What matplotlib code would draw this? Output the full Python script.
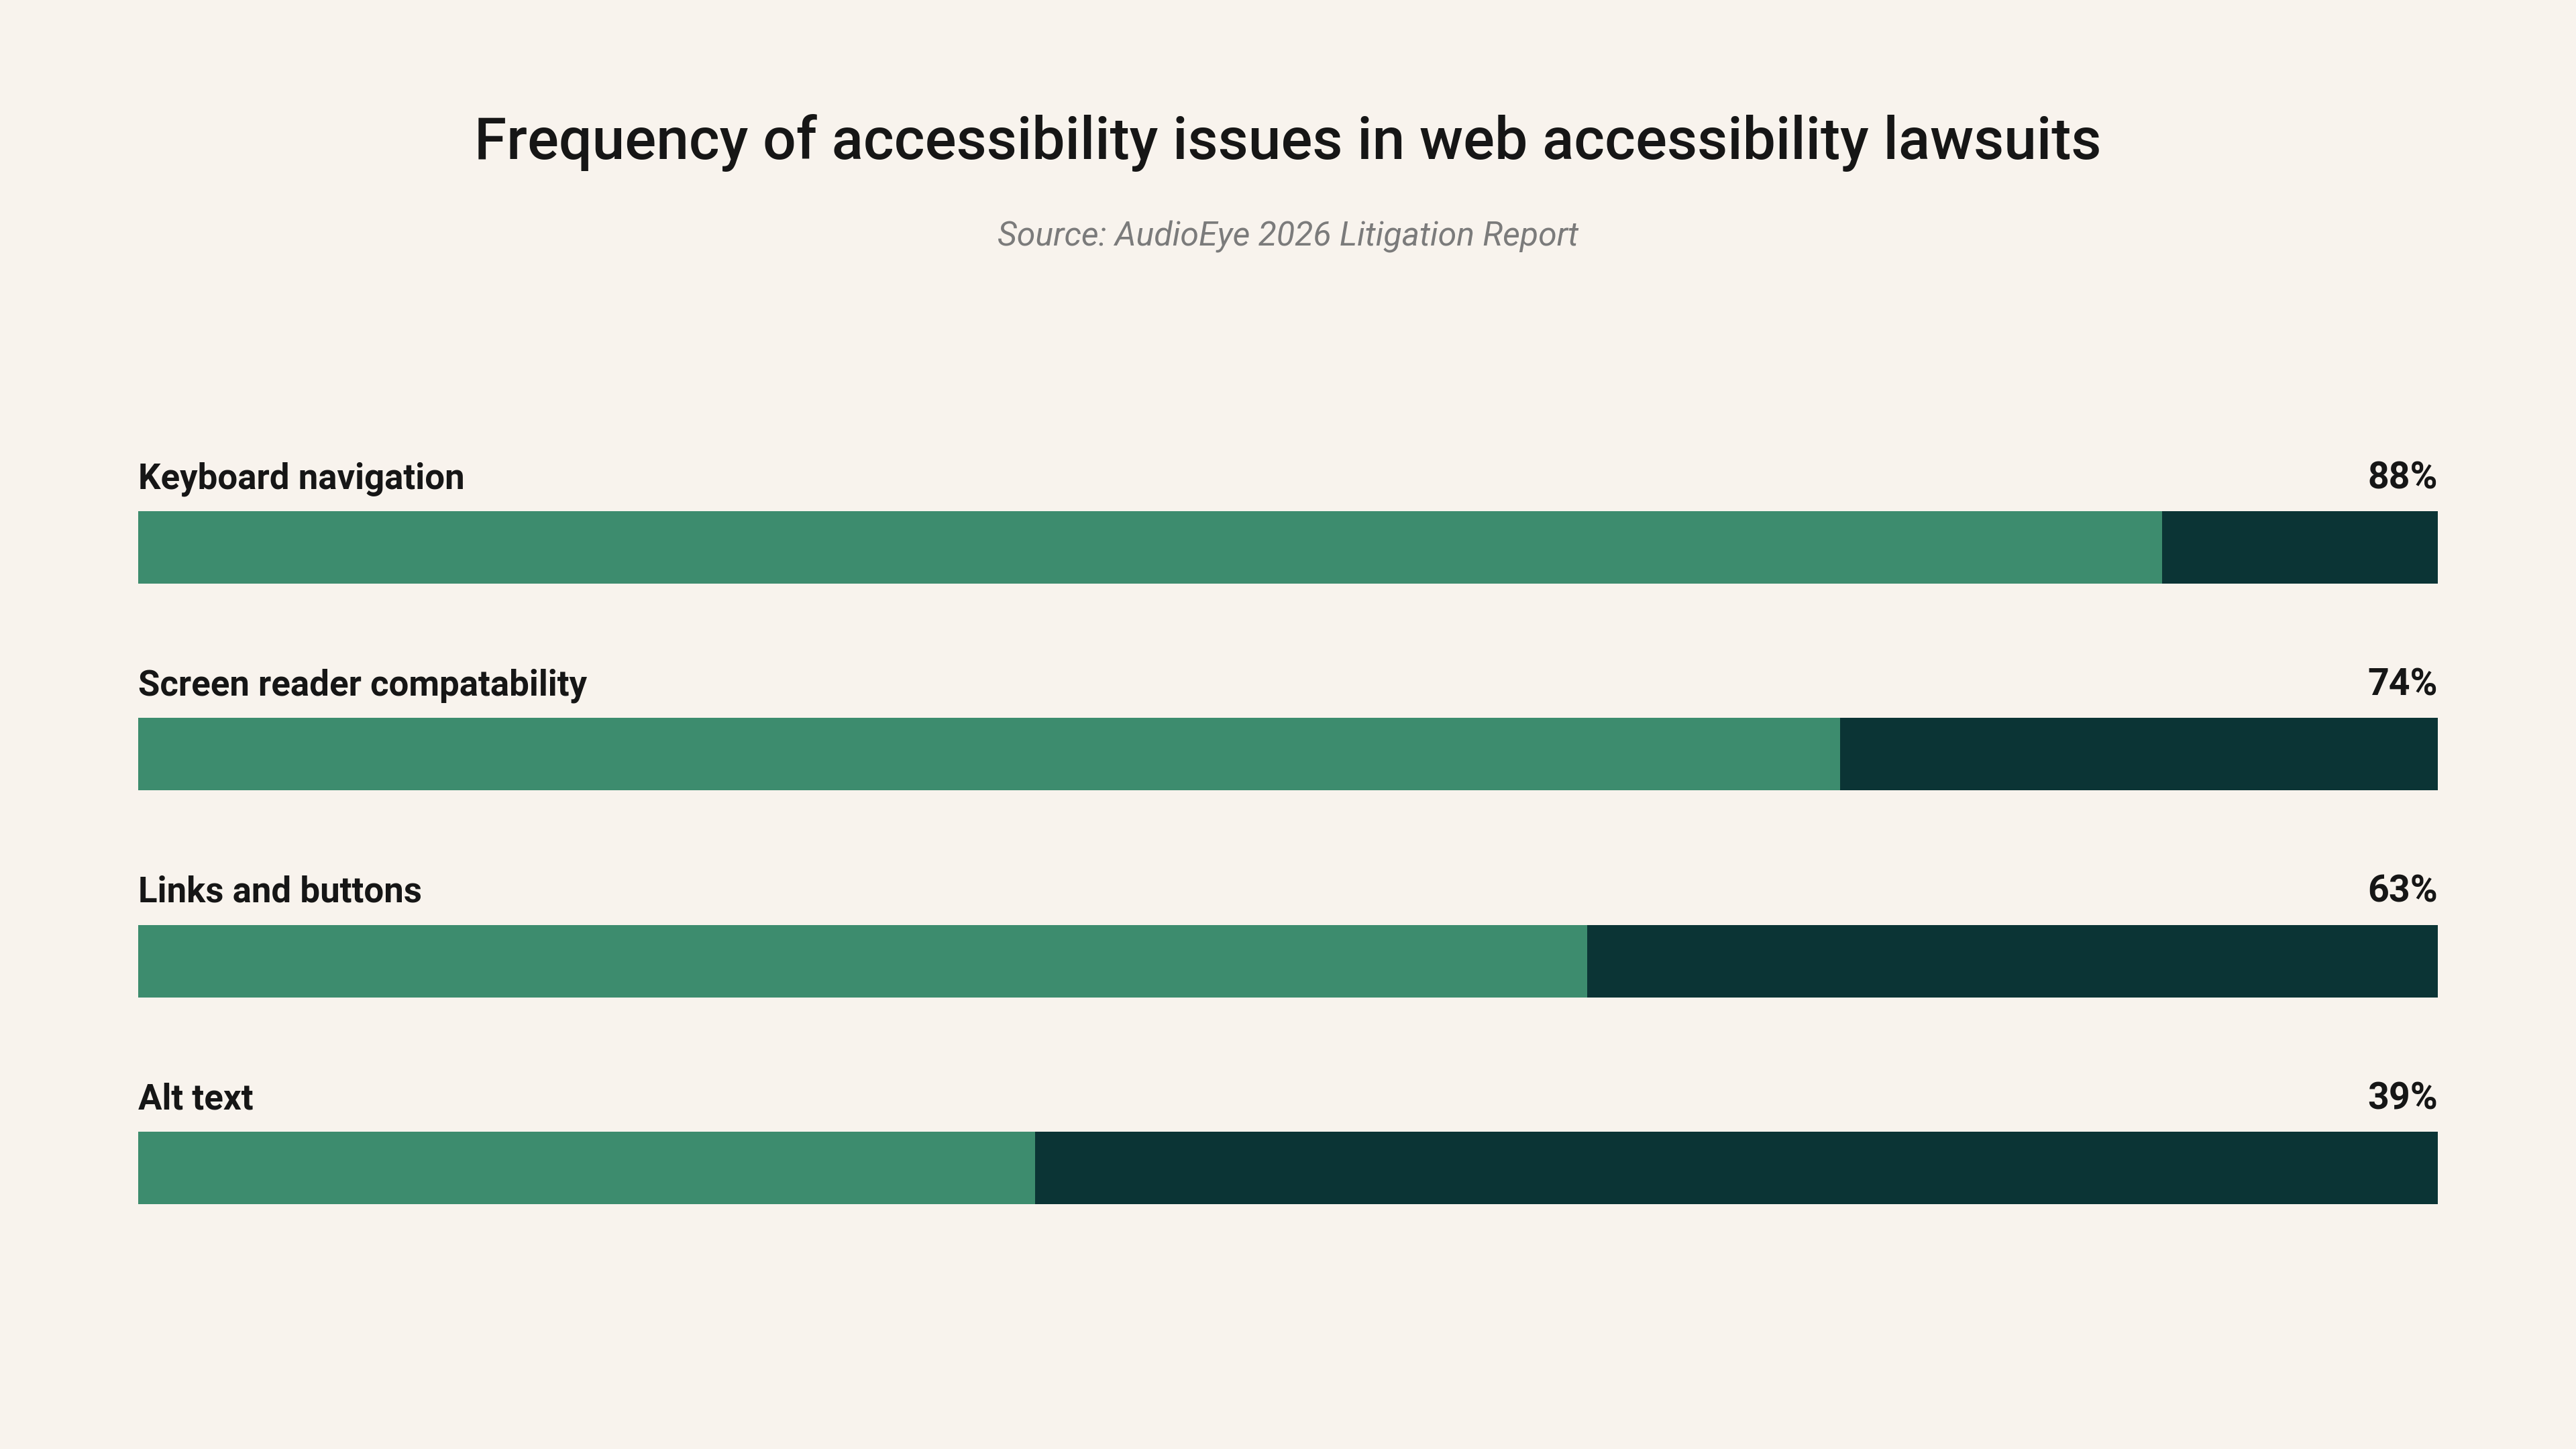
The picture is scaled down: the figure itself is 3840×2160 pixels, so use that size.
import numpy as np
import matplotlib as mpl
mpl.use("Agg")
import matplotlib.pyplot as plt

# data
issues = ["Keyboard navigation", "Screen reader compatability", "Links and buttons", "Alt text"]
shares = [88, 74, 63, 39]
value_labels = ["88%", "74%", "63%", "39%"]

title = "Frequency of accessibility issues in web accessibility lawsuits"
source = "Source: AudioEye 2026 Litigation Report"

BG = "#f8f3ed"
GREEN = "#3d8c6e"
DARK = "#0b3435"
INK = "#161616"

plt.rcParams["font.family"] = ["Roboto", "DejaVu Sans"]

fig = plt.figure(figsize=(38.4, 21.6), dpi=100, facecolor=BG)

# axes spans exactly the bar block: left edge of bars to right edge,
# top of first bar to bottom of last one
bar_h = 0.35
ax = fig.add_axes([206 / 3840, 1 - 1795 / 2160, (3634 - 206) / 3840, (1795 - 762) / 2160])
ax.set_facecolor(BG)
y = np.arange(len(issues))
rest = [100 - s for s in shares]
ax.barh(y, shares, height=bar_h, color=GREEN, linewidth=0)
ax.barh(y, rest, left=shares, height=bar_h, color=DARK, linewidth=0)
ax.set_xlim(0, 100)
ax.set_ylim(len(issues) - 1 + bar_h / 2, -bar_h / 2)
ax.axis("off")

gap = 0.11
for i, (name, lab) in enumerate(zip(issues, value_labels)):
    ax.text(0, i - bar_h / 2 - gap, name, ha="left", va="baseline",
            fontsize=38, fontweight="bold", color=INK, clip_on=False)
    ax.text(100, i - bar_h / 2 - gap, lab, ha="right", va="baseline",
            fontsize=40, fontweight="bold", color=INK, clip_on=False)

fig.text(0.5, 1 - 213 / 2160, title, ha="center", va="center",
         fontsize=63, fontweight="medium", color=INK)
fig.text(0.5, 1 - 353 / 2160, source, ha="center", va="center",
         fontsize=36, style="italic", color="#7b7b7b")

fig.savefig("out.png", dpi=100, facecolor=BG)
